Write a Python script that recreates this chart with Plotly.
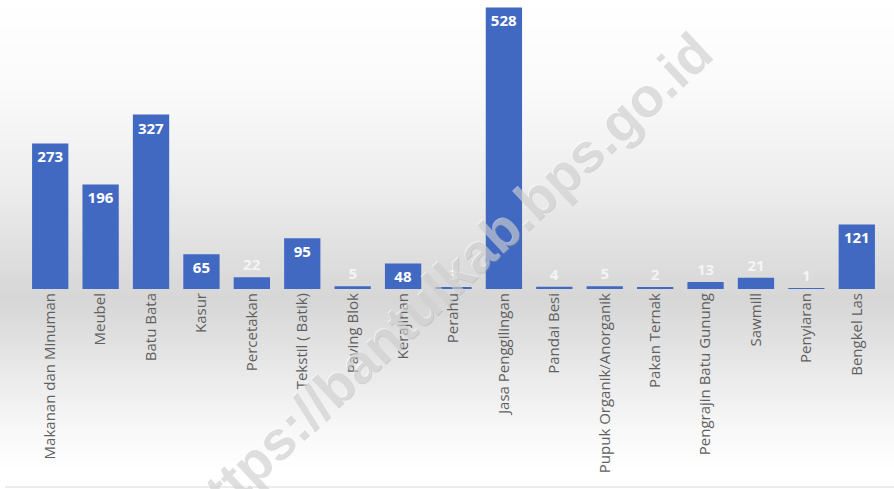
import plotly.graph_objects as go

categories = ["Makanan dan Minuman", "Meubel", "Batu Bata", "Kasur", "Percetakan",
              "Tekstil ( Batik)", "Paving Blok", "Kerajinan", "Perahu", "Jasa Penggilingan",
              "Pandai Besi", "Pupuk Organik/Anorganik", "Pakan Ternak", "Pengrajin Batu Gunung",
              "Sawmill", "Penyiaran", "Bengkel Las"]
values = [273, 196, 327, 65, 22, 95, 5, 48, 3, 528, 4, 5, 2, 13, 21, 1, 121]
watermark = "https://bantulkab.bps.go.id"

W, H = 894, 489
ML, MR, MT, MB = 25, 12, 1, 200
plot_h = H - MT - MB
plot_w = W - ML - MR

def py(px_y):
    return (H - MB - px_y) / plot_h

def px(px_x):
    return (px_x - ML) / plot_w

# gradient background bands (pixel stops -> gray level)
stops = [(0, 255), (90, 250), (180, 238), (289, 216), (300, 214), (360, 230), (420, 246), (470, 255), (489, 255)]

def gray_at(y):
    for (y0, g0), (y1, g1) in zip(stops[:-1], stops[1:]):
        if y0 <= y <= y1:
            t = (y - y0) / (y1 - y0) if y1 > y0 else 0
            return g0 + (g1 - g0) * t
    return 255

shapes = []
step = 4
for y in range(0, H, step):
    g = int(round(gray_at(y + step / 2)))
    shapes.append(dict(type="rect", xref="paper", yref="paper",
                       x0=px(0), x1=px(W), y0=py(y + step), y1=py(y),
                       fillcolor=f"rgb({g},{g},{g})", line=dict(width=0), layer="below"))
shapes.append(dict(type="line", xref="paper", yref="paper", x0=px(5), x1=px(W),
                   y0=py(487), y1=py(487), line=dict(color="#d9d9d9", width=1), layer="below"))

inside = [v >= 40 for v in values]
textpos = ["inside" if i else "outside" for i in inside]
textcol = ["white" if i else "#f4f4f4" for i in inside]

fig = go.Figure()
fig.add_trace(go.Bar(
    x=categories, y=values, text=[str(v) for v in values],
    textposition=textpos, insidetextanchor="end", textangle=0,
    constraintext="none", cliponaxis=False,
    textfont=dict(family="Open Sans", size=15, color=textcol, weight="bold"),
    outsidetextfont=dict(family="Open Sans", size=15, color=textcol, weight="bold"),
    insidetextfont=dict(family="Open Sans", size=15, color=textcol, weight="bold"),
    marker=dict(color="#4169c2", line=dict(width=0)),
    width=0.72,
))

# watermark: faint highlight then light gray body
wx, wy = px(446), py(283)
for dx, dy, col in [(-1, 1, "rgba(255,255,255,0.5)"), (0, 0, "rgba(150,150,150,0.30)")]:
    fig.add_annotation(x=wx + dx / plot_w, y=wy + dy / plot_h, xref="paper", yref="paper",
                       xanchor="center", yanchor="middle",
                       text=watermark, showarrow=False, textangle=-43,
                       font=dict(family="Liberation Sans", size=55, color=col, weight="bold"))

fig.update_layout(
    width=W, height=H, margin=dict(l=ML, r=MR, t=MT, b=MB),
    paper_bgcolor="white", plot_bgcolor="rgba(0,0,0,0)",
    shapes=shapes, showlegend=False,
    xaxis=dict(tickangle=-90, tickfont=dict(family="Open Sans", size=15, color="#5f5f5f"),
               showline=False, showgrid=False, ticks="", automargin=False),
    yaxis=dict(range=[0, 540], visible=False, showgrid=False, zeroline=False),
)

fig.write_html("out.html")
